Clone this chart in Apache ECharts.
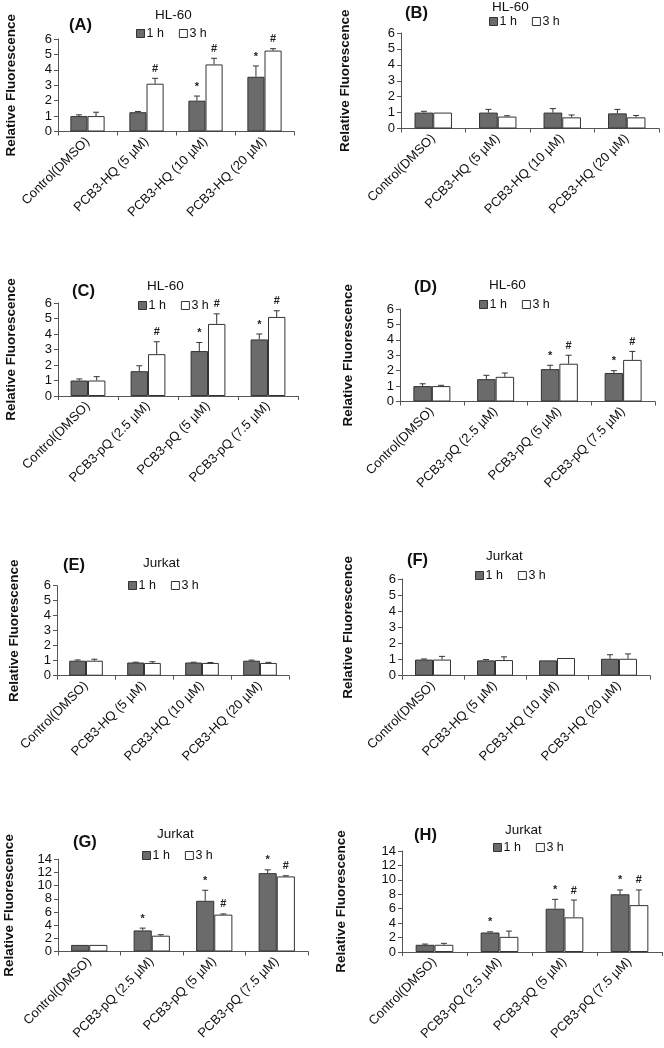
<!DOCTYPE html>
<html><head><meta charset="utf-8">
<script src="https://cdn.jsdelivr.net/npm/echarts@6/dist/echarts.min.js"></script>
<style>html,body{margin:0;padding:0;background:#fff}#c{width:664px;height:1048px}</style>
</head><body><div id="c"></div>
<script>
// ---- categories ----
const catsHQ = ["Control(DMSO)", "PCB3-HQ (5 µM)", "PCB3-HQ (10 µM)", "PCB3-HQ (20 µM)"];
const catsPQ = ["Control(DMSO)", "PCB3-pQ (2.5 µM)", "PCB3-pQ (5 µM)", "PCB3-pQ (7.5 µM)"];
const seriesNames = ["1 h", "3 h"];
const yTicksSmall = [0, 6, 1];   // min, max, interval
const yTicksLarge = [0, 14, 2];

// ---- panel A (HL-60, HQ) ----
const A_1h = [1.0, 1.25, 2.0, 3.55];   const A_1hErr = [0.08, 0.05, 0.3, 0.7];
const A_3h = [1.0, 3.1, 4.35, 5.25];   const A_3hErr = [0.25, 0.35, 0.4, 0.12];
const A_sig1 = ["", "", "*", "*"];     const A_sig3 = ["", "#", "#", "#"];
// ---- panel B (HL-60, HQ) ----
const B_1h = [1.0, 1.0, 1.0, 0.95];    const B_1hErr = [0.08, 0.2, 0.25, 0.25];
const B_3h = [1.0, 0.75, 0.7, 0.7];    const B_3hErr = [0.0, 0.05, 0.15, 0.12];
const B_sig1 = ["", "", "", ""];       const B_sig3 = ["", "", "", ""];
// ---- panel C (HL-60, pQ) ----
const C_1h = [1.0, 1.6, 2.9, 3.65];    const C_1hErr = [0.1, 0.35, 0.55, 0.35];
const C_3h = [1.0, 2.7, 4.65, 5.1];    const C_3hErr = [0.25, 0.8, 0.65, 0.4];
const C_sig1 = ["", "", "*", "*"];     const C_sig3 = ["", "#", "#", "#"];
// ---- panel D (HL-60, pQ) ----
const D_1h = [1.0, 1.45, 2.1, 1.85];   const D_1hErr = [0.15, 0.25, 0.25, 0.15];
const D_3h = [1.0, 1.6, 2.45, 2.7];    const D_3hErr = [0.05, 0.25, 0.55, 0.55];
const D_sig1 = ["", "", "*", "*"];     const D_sig3 = ["", "", "#", "#"];
// ---- panel E (Jurkat, HQ) ----
const E_1h = [1.0, 0.88, 0.88, 1.0];   const E_1hErr = [0.05, 0.02, 0.02, 0.04];
const E_3h = [1.0, 0.85, 0.85, 0.85];  const E_3hErr = [0.1, 0.08, 0.03, 0.04];
const E_sig1 = ["", "", "", ""];       const E_sig3 = ["", "", "", ""];
// ---- panel F (Jurkat, HQ) ----
const F_1h = [1.0, 0.95, 0.95, 1.05];  const F_1hErr = [0.04, 0.05, 0.0, 0.25];
const F_3h = [1.0, 0.97, 1.1, 1.05];   const F_3hErr = [0.2, 0.2, 0.0, 0.3];
const F_sig1 = ["", "", "", ""];       const F_sig3 = ["", "", "", ""];
// ---- panel G (Jurkat, pQ) ----
const G_1h = [1.0, 3.2, 7.7, 11.9];    const G_1hErr = [0.0, 0.35, 1.6, 0.5];
const G_3h = [1.0, 2.4, 5.6, 11.4];    const G_3hErr = [0.0, 0.15, 0.1, 0.1];
const G_sig1 = ["", "*", "*", "*"];    const G_sig3 = ["", "", "#", "#"];
// ---- panel H (Jurkat, pQ) ----
const H_1h = [1.0, 2.7, 6.0, 8.0];     const H_1hErr = [0.1, 0.1, 1.3, 0.6];
const H_3h = [1.0, 2.1, 4.8, 6.5];     const H_3hErr = [0.2, 0.8, 2.4, 2.1];
const H_sig1 = ["", "*", "*", "*"];    const H_sig3 = ["", "", "#", "#"];

// ---- layout (positions/styles only) ----
const panels = [
 {tag:"(A)", cell:"HL-60", cats:catsHQ, y:yTicksSmall, v1:A_1h,e1:A_1hErr,v3:A_3h,e3:A_3hErr,s1:A_sig1,s3:A_sig3,
  grid:{left:58,top:39,width:236,height:92.5}, gap:40, tag_xy:[69,17], cell_xy:[155,8], leg_xy:[136,27]},
 {tag:"(B)", cell:"HL-60", cats:catsHQ, y:yTicksSmall, v1:B_1h,e1:B_1hErr,v3:B_3h,e3:B_3hErr,s1:B_sig1,s3:B_sig3,
  grid:{left:401,top:33,width:258,height:95.5}, gap:49, tag_xy:[405,5], cell_xy:[492,0], leg_xy:[489,15]},
 {tag:"(C)", cell:"HL-60", cats:catsPQ, y:yTicksSmall, v1:C_1h,e1:C_1hErr,v3:C_3h,e3:C_3hErr,s1:C_sig1,s3:C_sig3,
  grid:{left:58,top:303,width:240,height:93}, gap:40, tag_xy:[72,283], cell_xy:[147,279], leg_xy:[138,299]},
 {tag:"(D)", cell:"HL-60", cats:catsPQ, y:yTicksSmall, v1:D_1h,e1:D_1hErr,v3:D_3h,e3:D_3hErr,s1:D_sig1,s3:D_sig3,
  grid:{left:400,top:309,width:255,height:92.5}, gap:45, tag_xy:[414,279], cell_xy:[489,278], leg_xy:[479,298]},
 {tag:"(E)", cell:"Jurkat", cats:catsHQ, y:yTicksSmall, v1:E_1h,e1:E_1hErr,v3:E_3h,e3:E_3hErr,s1:E_sig1,s3:E_sig3,
  grid:{left:57,top:585.7,width:232,height:90}, gap:36, tag_xy:[63,557], cell_xy:[143,556], leg_xy:[128,579]},
 {tag:"(F)", cell:"Jurkat", cats:catsHQ, y:yTicksSmall, v1:F_1h,e1:F_1hErr,v3:F_3h,e3:F_3hErr,s1:F_sig1,s3:F_sig3,
  grid:{left:402,top:579,width:248,height:96.7}, gap:47, tag_xy:[407,552], cell_xy:[486,549], leg_xy:[475,569]},
 {tag:"(G)", cell:"Jurkat", cats:catsPQ, y:yTicksLarge, v1:G_1h,e1:G_1hErr,v3:G_3h,e3:G_3hErr,s1:G_sig1,s3:G_sig3,
  grid:{left:58,top:859.3,width:250,height:92.2}, gap:42, tag_xy:[73,834], cell_xy:[157,827], leg_xy:[142,849]},
 {tag:"(H)", cell:"Jurkat", cats:catsPQ, y:yTicksLarge, v1:H_1h,e1:H_1hErr,v3:H_3h,e3:H_3hErr,s1:H_sig1,s3:H_sig3,
  grid:{left:402,top:851,width:260,height:101}, gap:54, tag_xy:[414,827], cell_xy:[505,823], leg_xy:[493,841]}
];

const FONT = "Liberation Sans, Arial, sans-serif";
const DARK = "#6b6b6b";
const EDGE = "#333";
const BAR_FRAC = 0.29; // each bar as a fraction of category width (barCategoryGap 42%, barGap 0)

const option = {animation:false, backgroundColor:"#fff", title:[], legend:[], grid:[], xAxis:[], yAxis:[], series:[]};

function errSeries(i, vals, errs, sigs, dir) {
  return {
    type:"custom", xAxisIndex:i, yAxisIndex:i, z:5, silent:true, clip:false,
    data: vals.map((v, k) => [k, v, errs[k]]),
    renderItem: function(params, api) {
      const cat = api.value(0), v = api.value(1), e = api.value(2);
      const base = api.coord([cat, v]);
      const top = api.coord([cat, v + e]);
      const w = api.size([1, 0])[0];
      const x = base[0] + dir * w * BAR_FRAC / 2;
      const children = [];
      if (e > 0) {
        children.push({type:"line", shape:{x1:x, y1:base[1], x2:x, y2:top[1]}, style:{stroke:EDGE, lineWidth:1}});
        children.push({type:"line", shape:{x1:x-3, y1:top[1], x2:x+3, y2:top[1]}, style:{stroke:EDGE, lineWidth:1}});
      }
      const s = sigs[params.dataIndex];
      if (s) {
        children.push({type:"text", style:{text:s, x:x, y:top[1]-4, align:"center", verticalAlign:"bottom",
          font:"bold 11px " + FONT, fill:"#222"}});
      }
      return {type:"group", children:children};
    }
  };
}

panels.forEach((p, i) => {
  option.grid.push(Object.assign({containLabel:false}, p.grid));
  option.title.push({text:p.tag, left:p.tag_xy[0], top:p.tag_xy[1], padding:0,
    textStyle:{fontFamily:FONT, fontSize:16.5, fontWeight:"bold", color:"#111"}});
  option.title.push({text:p.cell, left:p.cell_xy[0], top:p.cell_xy[1], padding:0,
    textStyle:{fontFamily:FONT, fontSize:13.5, fontWeight:"normal", color:"#111"}});
  option.legend.push({left:p.leg_xy[0], top:p.leg_xy[1], padding:0, itemGap:15, itemWidth:8, itemHeight:8,
    selectedMode:false, textStyle:{fontFamily:FONT, fontSize:12.5, color:"#111", padding:[0,0,0,-3]},
    data:[{name:seriesNames[0], icon:"rect", itemStyle:{color:DARK, borderColor:EDGE, borderWidth:1}},
          {name:seriesNames[1], icon:"rect", itemStyle:{color:"#fff", borderColor:EDGE, borderWidth:1}}]});
  option.xAxis.push({type:"category", gridIndex:i, data:p.cats, boundaryGap:true,
    axisLine:{lineStyle:{color:"#555", width:1}},
    axisTick:{show:true, length:4, lineStyle:{color:"#555"}},
    axisLabel:{interval:0, rotate:45, fontFamily:FONT, fontSize:13, color:"#111", margin:8}});
  option.yAxis.push({type:"value", gridIndex:i, min:p.y[0], max:p.y[1], interval:p.y[2],
    name:"Relative Fluorescence", nameLocation:"middle", nameGap:p.gap, nameRotate:90,
    nameTextStyle:{fontFamily:FONT, fontSize:13.5, fontWeight:"bold", color:"#111"},
    splitLine:{show:false},
    axisLine:{show:true, lineStyle:{color:"#555", width:1}},
    axisTick:{show:true, length:4, lineStyle:{color:"#555"}},
    axisLabel:{fontFamily:FONT, fontSize:13, color:"#111", margin:6}});
  option.series.push({type:"bar", name:seriesNames[0], xAxisIndex:i, yAxisIndex:i, data:p.v1,
    barGap:"0%", barCategoryGap:"42%", itemStyle:{color:DARK, borderColor:EDGE, borderWidth:1}});
  option.series.push({type:"bar", name:seriesNames[1], xAxisIndex:i, yAxisIndex:i, data:p.v3,
    barGap:"0%", barCategoryGap:"42%", itemStyle:{color:"#fff", borderColor:EDGE, borderWidth:1}});
  option.series.push(errSeries(i, p.v1, p.e1, p.s1, -1));
  option.series.push(errSeries(i, p.v3, p.e3, p.s3, 1));
});

const chart = echarts.init(document.getElementById("c"), null, {renderer:"canvas", width:664, height:1048});
chart.setOption(option);
</script>
</body></html>
